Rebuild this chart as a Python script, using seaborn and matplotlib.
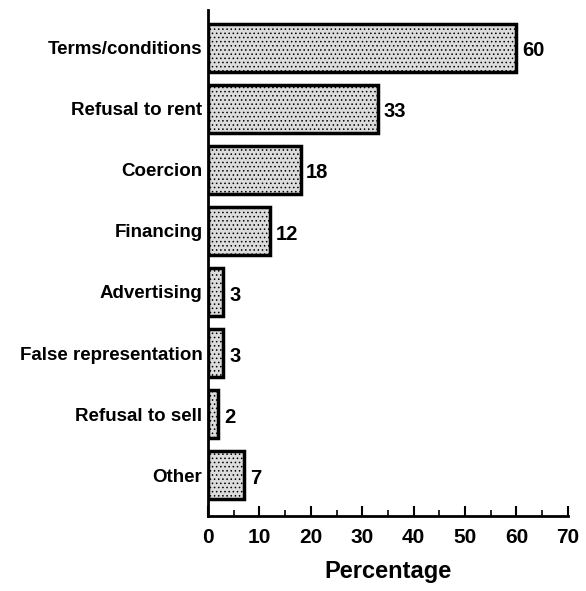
import matplotlib
matplotlib.use("Agg")
import matplotlib.pyplot as plt
import seaborn as sns
import pandas as pd
from matplotlib.ticker import MultipleLocator

categories = ["Terms/conditions", "Refusal to rent", "Coercion", "Financing",
              "Advertising", "False representation", "Refusal to sell", "Other"]
percentages = [60, 33, 18, 12, 3, 3, 2, 7]

df = pd.DataFrame({"category": categories, "pct": percentages})

sns.set_style("ticks")
plt.rcParams["font.family"] = ["Liberation Sans", "DejaVu Sans"]
plt.rcParams["text.color"] = "black"
plt.rcParams["xtick.color"] = "black"
plt.rcParams["ytick.color"] = "black"
plt.rcParams["axes.labelcolor"] = "black"
plt.rcParams["axes.edgecolor"] = "black"
plt.rcParams["hatch.color"] = "#8f8f8f"
plt.rcParams["hatch.linewidth"] = 0.6

fig = plt.figure(figsize=(5.86, 5.91), dpi=100)
ax = fig.add_axes([0.355, 0.127, 0.614, 0.856])

sns.barplot(data=df, x="pct", y="category", orient="h", color="#dcdcdc",
            edgecolor="black", linewidth=2.5, width=0.78, ax=ax)
for bar in ax.patches:
    bar.set_hatch("....")

for i, v in enumerate(percentages):
    ax.text(v + 1.1, i + 0.05, str(v), va="center", ha="left", fontsize=14.5,
            fontweight="bold")

ax.set_xlim(0, 70)
ax.set_ylim(len(categories) - 0.33, -0.62)
ax.xaxis.set_major_locator(MultipleLocator(10))
ax.xaxis.set_minor_locator(MultipleLocator(5))
ax.tick_params(axis="x", which="major", direction="in", length=7, width=1.5,
               labelsize=15, pad=9)
ax.tick_params(axis="x", which="minor", direction="in", length=4, width=1.2)
ax.tick_params(axis="y", length=0, labelsize=13.5, pad=4)
for lbl in ax.get_xticklabels():
    lbl.set_fontweight("bold")
for lbl in ax.get_yticklabels():
    lbl.set_fontweight("bold")

for side in ["top", "right"]:
    ax.spines[side].set_visible(False)
ax.spines["left"].set_linewidth(2)
ax.spines["bottom"].set_linewidth(2)

ax.set_ylabel("")
ax.set_xlabel("Percentage", fontsize=17, fontweight="heavy", labelpad=9)

fig.savefig("out.png", dpi=100)
